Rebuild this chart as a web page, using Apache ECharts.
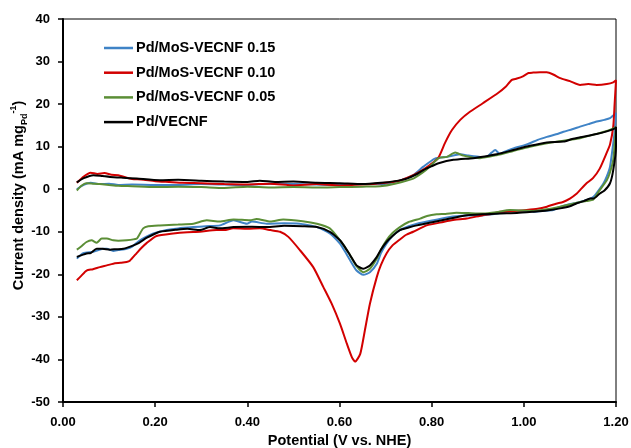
<!DOCTYPE html>
<html><head><meta charset="utf-8">
<script src="https://cdn.jsdelivr.net/npm/echarts@6/dist/echarts.min.js"></script>
<style>html,body{margin:0;padding:0;background:#fff}#c{width:631px;height:448px}</style>
</head><body><div id="c"></div>
<script>
var seriesNames = ["Pd/MoS-VECNF 0.15", "Pd/MoS-VECNF 0.10", "Pd/MoS-VECNF 0.05", "Pd/VECNF"];
var xTicks = [0.0, 0.2, 0.4, 0.6, 0.8, 1.0, 1.2];
var yTicks = [-50, -40, -30, -20, -10, 0, 10, 20, 30, 40];

// [potential (V), current density] — forward scan then reverse scan
var pd015 = [[0.03,0],[0.045,1.0],[0.06,1.5],[0.08,1.2],[0.1,1.3],[0.12,1.0],[0.15,1.1],[0.2,1.0],[0.25,1.0],[0.3,1.2],[0.35,1.1],[0.4,1.0],[0.45,1.3],[0.5,1.2],[0.55,1.1],[0.6,1.0],[0.65,1.2],[0.69,1.2],[0.73,2.0],[0.76,3.3],[0.782,5.3],[0.807,7.2],[0.833,7.6],[0.862,8.2],[0.88,7.9],[0.905,7.6],[0.919,7.6],[0.93,8.6],[0.938,9.2],[0.948,8.3],[0.96,8.9],[0.977,9.6],[1.0,10.3],[1.013,10.8],[1.03,11.6],[1.05,12.3],[1.07,12.9],[1.086,13.5],[1.105,14.1],[1.122,14.7],[1.14,15.3],[1.158,15.9],[1.175,16.3],[1.187,16.7],[1.2,17.9],
 [1.197,13.5],[1.194,10.8],[1.187,5.3],[1.18,3.0],[1.173,1.4],[1.16,-0.6],[1.151,-1.8],[1.135,-2.6],[1.122,-3.0],[1.105,-3.4],[1.093,-3.7],[1.075,-4.3],[1.064,-4.9],[1.04,-5.1],[1.02,-5.3],[1.0,-5.1],[0.97,-5.0],[0.95,-5.6],[0.912,-6.1],[0.88,-6.2],[0.84,-6.5],[0.804,-7.3],[0.768,-8.1],[0.75,-8.7],[0.731,-9.6],[0.715,-11.0],[0.702,-12.8],[0.69,-15.0],[0.681,-17.5],[0.666,-19.5],[0.652,-20.1],[0.637,-19.1],[0.623,-16.7],[0.61,-14.3],[0.601,-12.8],[0.579,-10.4],[0.551,-8.9],[0.53,-8.4],[0.514,-8.1],[0.48,-8.0],[0.442,-8.1],[0.41,-7.6],[0.399,-8.1],[0.37,-7.3],[0.341,-8.5],[0.31,-8.7],[0.283,-8.9],[0.25,-9.2],[0.225,-9.6],[0.196,-10.4],[0.18,-11.2],[0.167,-12.0],[0.15,-13.5],[0.138,-14.0],[0.12,-14.3],[0.109,-14.5],[0.095,-14.0],[0.087,-14.0],[0.066,-14.7],[0.044,-15.0],[0.03,-16.3]];

var pd010 = [[0.03,1.5],[0.045,3.0],[0.06,3.9],[0.075,3.6],[0.09,3.8],[0.105,3.4],[0.12,3.3],[0.135,2.8],[0.15,2.4],[0.17,2.3],[0.2,1.9],[0.23,1.7],[0.26,1.5],[0.3,1.4],[0.35,1.2],[0.4,1.1],[0.45,1.3],[0.5,0.9],[0.55,1.2],[0.6,0.9],[0.65,1.1],[0.69,1.4],[0.73,2.0],[0.76,3.3],[0.78,4.5],[0.796,5.7],[0.814,7.3],[0.829,10.9],[0.844,13.9],[0.862,16.3],[0.883,18.2],[0.911,20.2],[0.944,22.6],[0.96,24.0],[0.974,25.7],[0.985,26.0],[0.998,26.5],[1.01,27.3],[1.02,27.4],[1.035,27.5],[1.05,27.5],[1.065,26.9],[1.079,26.1],[1.1,25.4],[1.122,24.5],[1.14,24.7],[1.158,24.5],[1.18,24.7],[1.194,25.1],[1.2,25.6],
 [1.197,20],[1.194,14.7],[1.187,10.5],[1.18,8.6],[1.165,4.9],[1.15,2.6],[1.136,1.4],[1.122,-0.2],[1.115,-1.0],[1.1,-2.2],[1.085,-3.0],[1.07,-3.4],[1.05,-4.1],[1.03,-4.6],[1.006,-4.9],[0.975,-5.2],[0.948,-5.3],[0.93,-5.8],[0.911,-6.1],[0.876,-6.9],[0.85,-7.2],[0.825,-7.7],[0.789,-8.5],[0.76,-10.0],[0.745,-10.7],[0.731,-11.8],[0.715,-13.2],[0.702,-15.1],[0.69,-17.8],[0.681,-20.6],[0.666,-26.9],[0.655,-33.2],[0.645,-38.7],[0.634,-40.5],[0.627,-39.5],[0.616,-36.3],[0.601,-31.6],[0.583,-26.9],[0.565,-23.0],[0.543,-18.3],[0.514,-14.3],[0.489,-11.2],[0.471,-10.0],[0.45,-9.6],[0.427,-9.2],[0.4,-9.3],[0.369,-9.2],[0.35,-9.6],[0.333,-9.6],[0.297,-10.0],[0.27,-10.1],[0.239,-10.4],[0.203,-11.0],[0.182,-12.6],[0.17,-13.8],[0.16,-15.0],[0.145,-16.8],[0.138,-17.1],[0.125,-17.3],[0.109,-17.5],[0.095,-17.9],[0.08,-18.3],[0.065,-18.8],[0.051,-19.1],[0.04,-20.3],[0.03,-21.4]];

var pd005 = [[0.03,-0.3],[0.04,0.8],[0.05,1.4],[0.065,1.3],[0.08,1.2],[0.1,1.0],[0.12,0.8],[0.15,0.7],[0.2,0.5],[0.25,0.6],[0.3,0.5],[0.35,0.3],[0.4,0.6],[0.45,0.4],[0.5,0.5],[0.55,0.4],[0.6,0.5],[0.65,0.6],[0.688,0.7],[0.72,1.3],[0.76,2.5],[0.78,3.9],[0.796,5.3],[0.815,7.3],[0.833,7.6],[0.851,8.6],[0.869,7.9],[0.905,7.3],[0.941,8.0],[0.977,9.0],[1.013,10.0],[1.05,10.8],[1.086,11.4],[1.122,12.0],[1.158,13.0],[1.18,13.7],[1.194,14.3],[1.2,14.6],
 [1.197,10.5],[1.194,6.9],[1.187,4.0],[1.18,2.1],[1.162,-0.6],[1.151,-2.4],[1.135,-2.8],[1.122,-3.0],[1.1,-3.6],[1.079,-4.1],[1.05,-4.7],[1.02,-5.1],[0.995,-5.0],[0.97,-4.9],[0.94,-5.4],[0.912,-5.7],[0.88,-5.6],[0.854,-5.5],[0.83,-5.8],[0.811,-5.9],[0.79,-6.3],[0.775,-6.9],[0.75,-7.7],[0.731,-8.9],[0.715,-10.3],[0.702,-12.0],[0.69,-14.2],[0.681,-16.3],[0.666,-18.7],[0.652,-19.5],[0.637,-18.1],[0.623,-15.5],[0.61,-13.3],[0.601,-12.0],[0.579,-9.2],[0.551,-8.1],[0.52,-7.5],[0.478,-7.1],[0.45,-7.6],[0.42,-7.0],[0.406,-7.3],[0.37,-7.1],[0.34,-7.6],[0.312,-7.3],[0.283,-8.1],[0.25,-8.3],[0.21,-8.5],[0.185,-8.7],[0.174,-9.2],[0.165,-10.8],[0.16,-11.6],[0.138,-12.0],[0.12,-12.1],[0.109,-12.0],[0.095,-11.6],[0.084,-11.6],[0.073,-12.6],[0.062,-12.0],[0.051,-12.4],[0.04,-13.4],[0.03,-14.2]];

var pdVecnf = [[0.03,1.6],[0.045,2.6],[0.066,3.3],[0.085,3.1],[0.102,2.9],[0.13,2.7],[0.16,2.5],[0.21,2.1],[0.25,2.2],[0.3,2.0],[0.35,1.8],[0.4,1.7],[0.427,2.0],[0.46,1.7],[0.5,1.8],[0.55,1.5],[0.6,1.4],[0.65,1.2],[0.69,1.5],[0.72,1.9],[0.746,2.5],[0.765,3.4],[0.782,4.5],[0.8,5.4],[0.815,6.1],[0.847,6.9],[0.89,7.3],[0.915,7.7],[0.941,8.2],[0.977,9.2],[1.013,10.2],[1.05,11.0],[1.086,11.2],[1.105,11.8],[1.122,12.2],[1.158,13.0],[1.18,13.6],[1.198,14.3],[1.2,14.6],
 [1.2,10],[1.194,4.5],[1.187,1.4],[1.175,-0.3],[1.165,-1.0],[1.151,-2.2],[1.144,-2.2],[1.13,-2.8],[1.115,-3.3],[1.1,-4.0],[1.079,-4.5],[1.05,-5.0],[1.02,-5.3],[0.985,-5.6],[0.948,-5.7],[0.91,-5.9],[0.876,-6.1],[0.84,-6.9],[0.804,-7.7],[0.768,-8.5],[0.75,-9.0],[0.731,-9.6],[0.715,-11.0],[0.702,-12.4],[0.69,-14.2],[0.681,-15.9],[0.666,-17.9],[0.652,-18.7],[0.637,-17.9],[0.623,-15.5],[0.61,-13.3],[0.601,-12.0],[0.579,-10.0],[0.551,-8.9],[0.52,-8.7],[0.48,-8.6],[0.442,-8.9],[0.41,-8.8],[0.37,-8.9],[0.34,-9.2],[0.319,-8.9],[0.297,-9.6],[0.27,-9.3],[0.247,-9.5],[0.21,-10.0],[0.195,-10.7],[0.182,-11.4],[0.165,-12.6],[0.153,-13.2],[0.131,-14.0],[0.115,-14.1],[0.102,-14.2],[0.085,-14.0],[0.073,-14.0],[0.06,-15.0],[0.051,-15.1],[0.03,-15.9]];

var seriesData = [pd015, pd010, pd005, pdVecnf];
var colors = ["#3F83C6", "#D20000", "#5B8E36", "#000000"];

var FONT = "'Liberation Sans', Arial, sans-serif";
var chart = echarts.init(document.getElementById('c'), null, {renderer: 'canvas'});
chart.setOption({
  animation: false,
  backgroundColor: '#fff',
  grid: {left: 63, right: 15, top: 19, bottom: 46, containLabel: false, outerBoundsMode: 'none',
         show: true, borderColor: '#000', borderWidth: 1},
  legend: {
    orient: 'vertical', left: 99, top: 35, icon: 'rect', itemWidth: 29, itemHeight: 2.5, itemGap: 8.7,
    data: seriesNames,
    textStyle: {fontFamily: FONT, fontWeight: 'bold', fontSize: 14.5, lineHeight: 16, color: '#000', padding: [0, 0, 0, -2]}
  },
  xAxis: {
    type: 'value', min: xTicks[0], max: xTicks[xTicks.length - 1], interval: 0.2,
    name: 'Potential (V vs. NHE)', nameLocation: 'middle', nameGap: 31, nameMoveOverlap: false,
    nameTextStyle: {fontFamily: FONT, fontWeight: 'bold', fontSize: 14.5, color: '#000'},
    axisLine: {show: true, onZero: false, lineStyle: {color: '#000', width: 2}},
    axisTick: {show: true, inside: false, length: 5, lineStyle: {color: '#000', width: 1.5}},
    axisLabel: {margin: 14, fontFamily: FONT, fontWeight: 'bold', fontSize: 13, color: '#000',
      formatter: function (v) { return v.toFixed(2); }},
    splitLine: {show: false}
  },
  yAxis: {
    type: 'value', min: yTicks[0], max: yTicks[yTicks.length - 1], interval: 10,
    name: '{m|Current density (mA mg}{sub|Pd}{sup|-1}{m|)}', nameLocation: 'middle', nameGap: 34, nameRotate: 90,
    nameMoveOverlap: false,
    nameTextStyle: {
      fontFamily: FONT, fontWeight: 'bold', fontSize: 14.5, color: '#000', padding: [0, 0, 0, 30],
      rich: {
        m: {fontFamily: FONT, fontWeight: 'bold', fontSize: 14.5, color: '#000', lineHeight: 20, verticalAlign: 'middle'},
        sub: {fontFamily: FONT, fontWeight: 'bold', fontSize: 9, color: '#000', lineHeight: 9, verticalAlign: 'bottom'},
        sup: {fontFamily: FONT, fontWeight: 'bold', fontSize: 9, color: '#000', lineHeight: 9, verticalAlign: 'top'}
      }
    },
    axisLine: {show: true, onZero: false, lineStyle: {color: '#000', width: 2}},
    axisTick: {show: true, inside: false, length: 5, lineStyle: {color: '#000', width: 1.5}},
    axisLabel: {margin: 13, fontFamily: FONT, fontWeight: 'bold', fontSize: 13, color: '#000'},
    splitLine: {show: false}
  },
  series: seriesData.map(function (d, i) {
    return {
      name: seriesNames[i], type: 'line', data: d, symbol: 'none', smooth: 0.2,
      lineStyle: {color: colors[i], width: 2}, itemStyle: {color: colors[i]}, z: 2 + i
    };
  })
});
</script>
</body></html>
